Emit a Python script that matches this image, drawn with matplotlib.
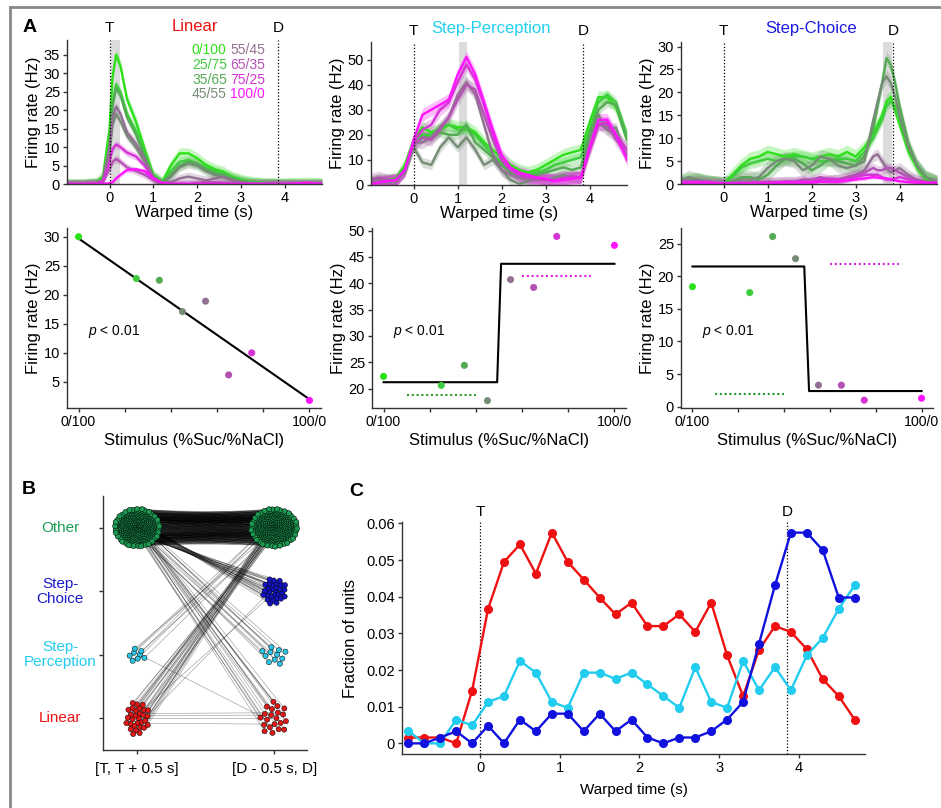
import numpy as np
import matplotlib
matplotlib.use("Agg")
import matplotlib.pyplot as plt
from matplotlib.collections import LineCollection
from matplotlib.lines import Line2D
import matplotlib.transforms as mtransforms

plt.rcParams['font.family'] = ['Liberation Sans', 'DejaVu Sans']
plt.rcParams['mathtext.fontset'] = 'custom'
plt.rcParams['mathtext.it'] = 'Liberation Sans:italic'
plt.rcParams['mathtext.rm'] = 'Liberation Sans'

# ------------------------------------------------------------------ data
stim_labels = ["0/100", "25/75", "35/65", "45/55", "55/45", "65/35", "75/25", "100/0"]
stim_suc = [0, 25, 35, 45, 55, 65, 75, 100]
stim_colors = ["#2ee01a", "#3fcc3f", "#55aa55", "#768c76", "#927092", "#b452b4", "#d534d5", "#ff14ff"]

T_EVENT = 0.0
D_EVENT = 3.85

# Linear panel (firing rate, Hz)
t_lin = [-1.0, -0.6, -0.3, -0.15, 0.0, 0.07, 0.15, 0.25, 0.4, 0.6, 0.8, 1.0, 1.2, 1.4,
         1.6, 1.8, 2.0, 2.2, 2.4, 2.6, 2.8, 3.0, 3.2, 3.5, 4.0, 4.5, 4.85]
rates_lin = [
    [0, 0, 0.3, 2, 15, 29, 35, 32, 23, 17, 9.5, 2.5, 0.5, 5, 8.3, 8.3, 7, 5.2, 4, 3.3, 2, 1.2, 0.7, 0.3, 0.2, 0.4, 0.2],
    [0, 0, 0.2, 1.5, 11, 22, 27, 25, 19, 14.5, 8.5, 2, 0.3, 3.5, 6, 6.5, 5.5, 4.5, 3.5, 2.8, 1.8, 1, 0.5, 0.3, 0.1, 0.1, 0.1],
    [0, 0, 0.2, 1.5, 10, 21, 26, 24, 18, 13.5, 7.5, 1.8, 0.3, 2.5, 5, 6, 5.5, 4, 3, 2.5, 1.5, 0.8, 0.4, 0.2, 0.1, 0.1, 0.1],
    [0, 0, 0.2, 1, 8, 16, 19, 17, 13, 10, 6, 1.5, 0.2, 2, 4.5, 5.5, 5, 3.5, 2.5, 1.8, 1.2, 0.6, 0.3, 0.2, 0.1, 0.1, 0.1],
    [0, 0, 0.2, 1, 10, 18, 21, 19, 14, 11, 7, 2, 0.3, 0.5, 1.5, 2, 1.5, 1, 1.5, 2, 1, 0.4, 0.2, 0.1, 0.1, 0.1, 0.1],
    [0, 0, 0.1, 0.5, 4, 6, 6.8, 6, 4.5, 3.5, 2.5, 1, 0.2, 0, 0, 0, 0.3, 0.5, 0.5, 0.3, 0.2, 0.1, 0.1, 0, 0, 0, 0],
    [0, 0, 0.2, 0.8, 6, 9.5, 10.7, 10, 8.5, 7.5, 5, 1.5, 0.2, 0, 0, 0, 0, 0, 0, 0, 0, 0, 0, 0, 0, 0, 0],
    [0, 0, 0, 0, 0.2, 0.5, 1.5, 2.5, 3.8, 4, 3.5, 1.5, 0.3, 0, 0, 0, 0, 0, 0, 0, 0, 0, 0, 0, 0, 0.4, 0],
]
band_lin = [1.5, 1.3, 1.3, 1.2, 1.2, 1.0, 1.0, 0.6]

# Step-Perception panel
t_sp = [-1.0, -0.8, -0.6, -0.4, -0.2, 0.0, 0.2, 0.4, 0.6, 0.8, 1.0, 1.2, 1.4, 1.6, 1.8,
        2.0, 2.2, 2.4, 2.6, 2.8, 3.0, 3.2, 3.4, 3.6, 3.8, 4.0, 4.2, 4.4, 4.6, 4.85]
rates_sp = [
    [1, 2, 2, 2.5, 8, 18, 23, 21, 22, 24, 23, 23, 21, 17, 14, 11, 8, 6, 5, 6, 8, 10, 12, 13, 14, 25, 35, 35, 31, 18],
    [1, 1.5, 2, 2, 7, 17, 20, 20, 23, 24, 22, 22, 20, 16, 12, 9, 7, 5, 4, 5, 6, 8, 9, 10, 11, 22, 33, 36, 33, 20],
    [0.5, 1, 1.5, 2, 6, 16, 19, 19, 21, 20, 20, 24, 17, 14, 11, 8, 5, 4, 3, 4, 5, 6, 7, 6, 7, 20, 30, 33, 32, 18],
    [0.5, 1, 1, 1.5, 5, 15, 9, 8, 15, 19, 15, 19, 14, 8, 10, 6, 2, 0.5, 1.5, 3, 2, 3, 4, 3, 3, 18, 28, 22, 23, 10],
    [1, 2, 1.5, 2, 6, 17, 17, 19, 23, 27, 36, 41, 36, 24, 12, 6, 4, 3, 2, 2, 2, 2, 2.5, 3, 3, 15, 25, 22, 20, 14],
    [2, 3, 2, 2, 6, 16, 19, 18, 22, 27, 34, 40, 38, 28, 18, 10, 6, 4, 3, 3, 2.5, 2, 3, 3.5, 3, 14, 24, 24, 18, 12],
    [0.5, 1, 1.5, 2, 6, 17, 22, 24, 30, 33, 41, 48, 42, 32, 20, 10, 6, 4, 3, 2.5, 2, 2, 2.5, 3, 3, 14, 24, 25, 20, 14],
    [0, 1, 1.5, 2, 6, 18, 28, 30, 32, 34, 44, 51, 44, 33, 22, 12, 7, 5, 4, 3, 2.5, 1.5, 2, 2.5, 3, 15, 26, 26, 20, 10],
]
band_sp = [2.5, 2.0, 2.0, 2.0, 2.5, 2.5, 2.5, 2.5]

# Step-Choice panel
t_sc = [-1.0, -0.8, -0.6, -0.4, -0.2, 0.0, 0.2, 0.4, 0.6, 0.8, 1.0, 1.2, 1.4, 1.6, 1.8, 2.0,
        2.2, 2.4, 2.6, 2.8, 3.0, 3.2, 3.4, 3.5, 3.6, 3.7, 3.8, 3.9, 4.0, 4.2, 4.4, 4.6, 4.85]
rates_sc = [
    [0.5, 1, 1, 0.5, 0.3, 0, 2, 4, 5.5, 6, 7, 6.5, 6, 6.5, 6, 5.5, 6, 6.5, 6, 7, 6, 8, 11, 13, 15, 18, 19, 16, 13, 7, 3.5, 1, 0.3],
    [0, 0.3, 0.5, 0.5, 0.3, 0, 1.5, 3.5, 4.5, 5, 5.5, 5, 5.5, 6, 6, 5.5, 5, 5, 5.5, 5.5, 5, 7, 10, 12, 14, 17, 18, 17, 14, 8, 4, 1.5, 0.5],
    [0, 0.5, 1, 0.5, 0.3, 0, 0.5, 1.5, 1.5, 1, 2, 4, 5.5, 5.5, 4.5, 3, 4, 5.5, 5, 4.5, 4, 6, 12, 17, 22, 27.5, 26, 22, 17, 9, 4, 1.5, 0.5],
    [0.5, 1.5, 1, 0.5, 0.3, 0.2, 0.5, 1, 1, 1.5, 3.5, 5, 5.5, 5, 3, 4, 6, 5.5, 4, 3.5, 4, 5, 14, 18, 22, 23.5, 22, 19, 15, 8, 4, 1.5, 0.5],
    [0.5, 0.5, 0.8, 0.5, 0.3, 0.2, 0.2, 0.3, 0.5, 0.5, 0.3, 0.3, 0.5, 0.5, 0.5, 0.5, 0.5, 0.8, 1, 1.5, 2, 3, 6, 6.5, 5, 3.5, 2.5, 3, 3.5, 2, 0.8, 0.5, 0.3],
    [0.5, 0.8, 0.5, 0.3, 0.2, 0.2, 0.2, 0.3, 0.3, 0.3, 0.5, 0.5, 0.5, 0.5, 1, 1, 1.5, 1, 1, 1.5, 2, 2.5, 3.5, 3, 3, 3.5, 3.5, 3, 2.5, 1.5, 1, 0.5, 0.3],
    [0.3, 0.3, 0.5, 0.5, 0.3, 0.2, 0.2, 0.2, 0.2, 0.3, 0.3, 0.3, 0.5, 0.5, 0.5, 0.5, 1, 1.2, 1, 1, 1.5, 2, 2, 2, 1.5, 1, 1, 1.2, 1.5, 1, 0.5, 0.3, 0.3],
    [0.2, 0.3, 0.3, 0.2, 0.2, 0.1, 0.1, 0.1, 0.1, 0.1, 0.2, 0.2, 0.3, 0.3, 0.3, 0.3, 0.5, 0.5, 0.5, 0.8, 1, 1.2, 1.5, 1.4, 1.3, 1.2, 1, 0.8, 0.6, 0.4, 0.3, 0.2, 0.2],
]
band_sc = [1.5, 1.2, 1.5, 1.5, 1.2, 1.0, 0.6, 0.4]

win_lin = (0.03, 0.23)
win_sp = (1.03, 1.22)
win_sc = (3.63, 3.83)

# Window firing rates vs stimulus
lin_rate = [30.0, 22.8, 22.5, 17.1, 18.9, 6.2, 10.0, 1.8]
sp_rate = [22.3, 20.6, 24.4, 17.7, 40.7, 39.2, 48.9, 47.2]
sc_rate = [18.4, 17.5, 26.1, 22.7, 3.3, 3.3, 1.0, 1.3]

lin_fit_intercept = 29.7
lin_fit_slope = -0.277
sp_fit_x = [0, 49.2, 50.9, 100]
sp_fit_y = [21.2, 21.2, 43.7, 43.7]
sc_fit_x = [0, 48.8, 50.9, 100]
sc_fit_y = [21.5, 21.5, 2.4, 2.4]
sp_green_ref = ([10, 40], 18.7)
sp_magenta_ref = ([60, 90], 41.4)
sc_green_ref = ([10, 40], 1.9)
sc_magenta_ref = ([60, 90], 21.9)

# Panel B: class transitions (rows: class in [T, T+0.5 s]; cols: class in [D-0.5 s, D])
b_categories = ["Linear", "Step-\nPerception", "Step-\nChoice", "Other"]
b_colors = ["#e01818", "#2cc4e4", "#1414c4", "#1c9a52"]
b_label_colors = ["#ee1111", "#22ccee", "#1a1acc", "#1aa055"]
b_transitions = [[4, 0, 2, 24],
                 [1, 0, 0, 7],
                 [0, 0, 0, 0],
                 [16, 11, 28, 300]]

# Panel C: fraction of units per class
c_time = [-0.9, -0.7, -0.5, -0.3, -0.1, 0.1, 0.3, 0.5, 0.7, 0.9, 1.1, 1.3, 1.5, 1.7, 1.9,
          2.1, 2.3, 2.5, 2.7, 2.9, 3.1, 3.3, 3.5, 3.7, 3.9, 4.1, 4.3, 4.5, 4.7]
c_linear = [0.0016, 0.0016, 0.0016, 0.0, 0.0144, 0.0367, 0.0495, 0.0543, 0.0463, 0.0575,
            0.0495, 0.0447, 0.0398, 0.0352, 0.0384, 0.0320, 0.0320, 0.0352, 0.0304, 0.0384,
            0.0240, 0.0129, 0.0255, 0.0320, 0.0304, 0.0257, 0.0175, 0.0129, 0.0065]
c_step_perc = [0.0034, 0.0, 0.0, 0.0065, 0.0049, 0.0113, 0.0129, 0.0225, 0.0193, 0.0113,
               0.0097, 0.0193, 0.0193, 0.0176, 0.0193, 0.0161, 0.0129, 0.0097, 0.0208, 0.0113,
               0.0097, 0.0225, 0.0145, 0.0208, 0.0145, 0.0240, 0.0288, 0.0367, 0.0431]
c_step_choice = [0.0, 0.0, 0.0016, 0.0033, 0.0, 0.0048, 0.0, 0.0065, 0.0033, 0.0081,
                 0.0081, 0.0033, 0.0081, 0.0033, 0.0065, 0.0016, 0.0, 0.0016, 0.0016, 0.0033,
                 0.0065, 0.0113, 0.0272, 0.0431, 0.0575, 0.0575, 0.0527, 0.0398, 0.0398]

# ------------------------------------------------------------------ figure
W, H = 941, 808
fig = plt.figure(figsize=(W / 100, H / 100), dpi=100)


def ax_px(l, t, r, b):
    return fig.add_axes([l / W, 1 - b / H, (r - l) / W, (b - t) / H])


def style(ax, labelsize=10.5):
    for s in ['top', 'right']:
        ax.spines[s].set_visible(False)
    for s in ['left', 'bottom']:
        ax.spines[s].set_color('#333333')
        ax.spines[s].set_linewidth(1.0)
    ax.tick_params(direction='out', length=3, width=1, color='#333333',
                   labelsize=labelsize, pad=2)


dotted = (0, (1, 1.6))

# ---- Row 1: PSTHs
top_axes = [ax_px(67, 40, 322, 184), ax_px(371, 42, 627, 185), ax_px(681, 42, 937, 184)]
top_data = [
    (t_lin, rates_lin, band_lin, win_lin, (0, 39), [0, 5, 10, 15, 20, 25, 30, 35], "Linear", "#ee1111", 0.50),
    (t_sp, rates_sp, band_sp, win_sp, (0, 57), [0, 10, 20, 30, 40, 50], "Step-Perception", "#22d0ee", 0.47),
    (t_sc, rates_sc, band_sc, win_sc, (0, 31), [0, 5, 10, 15, 20, 25, 30], "Step-Choice", "#1a1add", 0.51),
]
for ax, (tt, rates, bands, win, ylim, yt, title, tcol, tx) in zip(top_axes, top_data):
    style(ax)
    ax.axvspan(win[0], win[1], color='#dcdcdc', lw=0, zorder=0)
    t = np.array(tt)
    for k in range(8):
        y = np.array(rates[k], dtype=float)
        ax.fill_between(t, y - bands[k], y + bands[k], color=stim_colors[k], alpha=0.28, lw=0, zorder=1)
    for k in range(8):
        ax.plot(t, rates[k], color=stim_colors[k], lw=1.7, zorder=2)
    ax.axvline(T_EVENT, color='k', ls=dotted, lw=0.9, zorder=3)
    ax.axvline(D_EVENT, color='k', ls=dotted, lw=0.9, zorder=3)
    ax.set_xlim(-0.97, 4.85)
    ax.set_ylim(*ylim)
    ax.set_xticks([0, 1, 2, 3, 4])
    ax.set_yticks(yt)
    ax.set_xlabel('Warped time (s)', fontsize=12, labelpad=0)
    ax.set_ylabel('Firing rate (Hz)', fontsize=12, labelpad=2)
    tr = mtransforms.blended_transform_factory(ax.transData, ax.transAxes)
    ax.text(T_EVENT, 1.08, 'T', transform=tr, ha='center', va='center', fontsize=11)
    ax.text(D_EVENT, 1.08, 'D', transform=tr, ha='center', va='center', fontsize=11)
    ax.text(tx, 1.095, title, transform=ax.transAxes, ha='center', va='center',
            fontsize=12, color=tcol)

# legend text in Linear panel
leg_rows = [0.933, 0.828, 0.724, 0.622]
for k in range(8):
    col = k // 4
    row = k % 4
    top_axes[0].text(0.49 + 0.15 * col, leg_rows[row], stim_labels[k], transform=top_axes[0].transAxes,
                     ha='left', va='center', fontsize=10, color=stim_colors[k])

# ---- Row 2: tuning scatter
sc_axes = [ax_px(67, 228, 321, 408), ax_px(372, 228, 626, 408), ax_px(681, 228, 933, 408)]
sc_info = [
    (lin_rate, (0.5, 31.5), [5, 10, 15, 20, 25, 30]),
    (sp_rate, (16.3, 50.5), [20, 25, 30, 35, 40, 45, 50]),
    (sc_rate, (-0.2, 27.4), [0, 5, 10, 15, 20, 25]),
]
for ax, (vals, ylim, yt) in zip(sc_axes, sc_info):
    style(ax)
    ax.scatter(stim_suc, vals, s=26, c=stim_colors, zorder=3, linewidths=0)
    ax.set_xlim(-5, 105)
    ax.set_ylim(*ylim)
    ax.set_yticks(yt)
    ax.set_xticks([0, 20, 40, 60, 80, 100])
    ax.set_xticklabels(['0/100', '', '', '', '', '100/0'])
    ax.tick_params(axis='x', labelsize=10.2)
    ax.set_xlabel('Stimulus (%Suc/%NaCl)', fontsize=12, labelpad=3)
    ax.set_ylabel('Firing rate (Hz)', fontsize=12, labelpad=2)
    ax.text(0.083, 0.424, r'$p$ < 0.01', transform=ax.transAxes, ha='left', va='center', fontsize=10)

xfit = np.array([0, 100])
sc_axes[0].plot(xfit, lin_fit_intercept + lin_fit_slope * xfit, color='k', lw=1.5, zorder=2)
sc_axes[1].plot(sp_fit_x, sp_fit_y, color='k', lw=1.5, zorder=2)
sc_axes[2].plot(sc_fit_x, sc_fit_y, color='k', lw=1.5, zorder=2)
for ax, g, m in [(sc_axes[1], sp_green_ref, sp_magenta_ref), (sc_axes[2], sc_green_ref, sc_magenta_ref)]:
    ax.plot(g[0], [g[1], g[1]], color='#2a9a2a', ls=(0, (1, 1.3)), lw=1.5)
    ax.plot(m[0], [m[1], m[1]], color='#dd22dd', ls=(0, (1, 1.3)), lw=1.5)

# ---- Panel B
axB = ax_px(103, 496, 307, 750)
style(axB, labelsize=11)


def cluster(n, cx, cy, rx, ry):
    k = np.arange(n)
    r = np.sqrt((k + 0.5) / max(n, 1))
    th = k * 2.39996323
    return cx + rx * r * np.cos(th), cy + ry * r * np.sin(th)


left_r = [(0.09, 0.27), (0.075, 0.11), (0.09, 0.20), (0.165, 0.3)]
right_r = [(0.11, 0.27), (0.10, 0.16), (0.09, 0.21), (0.17, 0.3)]
from_idx, to_idx = [], []
for i in range(4):
    for j in range(4):
        from_idx += [i] * b_transitions[i][j]
        to_idx += [j] * b_transitions[i][j]
from_idx = np.array(from_idx)
to_idx = np.array(to_idx)
N = len(from_idx)
lx = np.zeros(N); ly = np.zeros(N); rx_ = np.zeros(N); ry_ = np.zeros(N)
for i in range(4):
    m = from_idx == i
    n = int(m.sum())
    if n:
        a, b = cluster(n, 0.0, i, *left_r[i])
        lx[m] = a; ly[m] = b
    m = to_idx == i
    n = int(m.sum())
    if n:
        a, b = cluster(n, 1.0, i, *right_r[i])
        rx_[m] = a; ry_[m] = b
segs = [[(lx[u], ly[u]), (rx_[u], ry_[u])] for u in range(N)]
axB.add_collection(LineCollection(segs, colors='k', linewidths=0.5, alpha=0.35, zorder=1))
axB.scatter(lx, ly, s=14, c=[b_colors[i] for i in from_idx], edgecolors='k', linewidths=0.35, zorder=3)
axB.scatter(rx_, ry_, s=14, c=[b_colors[i] for i in to_idx], edgecolors='k', linewidths=0.35, zorder=3)
axB.set_xlim(-0.25, 1.24)
axB.set_ylim(-0.5, 3.5)
axB.set_yticks([0, 1, 2, 3])
axB.set_yticklabels([])
axB.set_xticks([0, 1])
axB.set_xticklabels(['[T, T + 0.5 s]', '[D - 0.5 s, D]'], fontsize=11)
axB.tick_params(axis='x', pad=6)
trB = mtransforms.blended_transform_factory(axB.transAxes, axB.transData)
for i, lab in enumerate(b_categories):
    axB.text(-0.21, i, lab, transform=trB, ha='center', va='center', fontsize=11,
             color=b_label_colors[i], multialignment='center', linespacing=1.05)

# ---- Panel C
axC = ax_px(402, 522, 865, 754)
style(axC)
axC.plot(c_time, c_linear, '-o', color='#ee1111', lw=1.7, ms=5.5, zorder=3)
axC.plot(c_time, c_step_perc, '-o', color='#22ccee', lw=1.7, ms=5.5, zorder=3)
axC.plot(c_time, c_step_choice, '-o', color='#1111dd', lw=1.7, ms=5.5, zorder=4)
axC.axvline(T_EVENT, color='k', ls=dotted, lw=0.9, zorder=1)
axC.axvline(D_EVENT, color='k', ls=dotted, lw=0.9, zorder=1)
axC.set_xlim(-0.98, 4.83)
axC.set_ylim(-0.0029, 0.0604)
axC.set_xticks([0, 1, 2, 3, 4])
axC.set_yticks([0, 0.01, 0.02, 0.03, 0.04, 0.05, 0.06])
axC.set_yticklabels(['0', '0.01', '0.02', '0.03', '0.04', '0.05', '0.06'])
axC.set_xlabel('Warped time (s)', fontsize=11, labelpad=6)
axC.set_ylabel('Fraction of units', fontsize=12, labelpad=6)
trC = mtransforms.blended_transform_factory(axC.transData, axC.transAxes)
axC.text(T_EVENT, 1.045, 'T', transform=trC, ha='center', va='center', fontsize=11)
axC.text(D_EVENT, 1.045, 'D', transform=trC, ha='center', va='center', fontsize=11)

# ---- panel letters and frame
fig.text(30 / W, 1 - 27 / H, 'A', fontsize=14, fontweight='bold', ha='center', va='center')
fig.text(29 / W, 1 - 490 / H, 'B', fontsize=14, fontweight='bold', ha='center', va='center')
fig.text(356 / W, 1 - 491 / H, 'C', fontsize=14, fontweight='bold', ha='center', va='center')
fig.add_artist(Line2D([10 / W, 10 / W], [0, 1 - 7 / H], transform=fig.transFigure, color='#888888', lw=2))
fig.add_artist(Line2D([10 / W, 1], [1 - 7 / H, 1 - 7 / H], transform=fig.transFigure, color='#888888', lw=2))

fig.savefig('out.png', dpi=100)
